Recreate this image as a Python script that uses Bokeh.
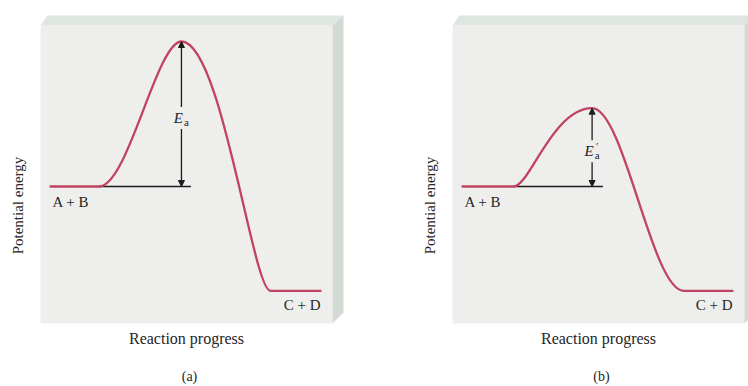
import math

from bokeh.core.properties import value
from bokeh.embed import file_html
from bokeh.layouts import row
from bokeh.models import Arrow, NormalHead, Range1d
from bokeh.plotting import figure
from bokeh.resources import INLINE

# ---------------------------------------------------------------- data
panel_tags = ["(a)", "(b)"]
energy_reactants = [60, 60]        # A + B
energy_products = [24, 24]         # C + D
energy_transition = [110, 87]      # top of the barrier
progress_start = [0.0, 0.0]        # reactant plateau begins
progress_rise = [1.8, 1.9]         # curve leaves the reactant plateau
progress_peak = [4.85, 4.8]        # transition state
progress_fall = [8.15, 8.2]        # curve reaches the product plateau
progress_end = [10.0, 10.0]        # product plateau ends
progress_ref_end = [5.2, 5.2]      # end of the reactant reference line
reactant_label = "A + B"
product_label = "C + D"
barrier_primes = ["", "\u2032"]    # E_a  and  E'_a
x_title = "Reaction progress"
y_title = "Potential energy"

# ---------------------------------------------------------------- layout / style
HEIGHT = 386
WIDTHS = [412, 336]
X0, PX_X = 50, 27.0      # pixel column of progress 0, pixels per progress unit
Y0, PX_Y = 360, 2.9      # pixel row of energy 0, pixels per energy unit

# cubic Bezier handle fractions (start handle, end handle) for each panel
RISE_SHAPE = [(0.35, 0.30), (0.20, 0.50)]
FALL_SHAPE = [(0.45, 0.20), (0.35, 0.35)]

FONT = value("Liberation Serif")
FACE = "#eeefed"
TOP = "#dfe5e0"
SIDE = "#d3dad4"
CURVE = "#c2435f"
INK = "#1c1c1c"
TEXT = "#262626"


def dx(px):
    return (px - X0) / PX_X


def dy(py):
    return (Y0 - py) / PX_Y


def panel(i):
    w = WIDTHS[i]
    p = figure(
        width=w, height=HEIGHT,
        x_range=Range1d(dx(0), dx(w)), y_range=Range1d(dy(HEIGHT), dy(0)),
        x_axis_location=None, y_axis_location=None,
        output_backend="svg", toolbar_location=None, min_border=0,
        background_fill_color="white", border_fill_color="white",
    )
    p.grid.visible = False
    p.outline_line_color = None

    # box drawn as a slab: front face, top face, right face
    p.quad(left=dx(40), right=dx(332), top=dy(25), bottom=dy(323),
           fill_color=FACE, line_color=None)
    p.patch([dx(40), dx(47), dx(343), dx(332)], [dy(25), dy(15), dy(15), dy(25)],
            fill_color=TOP, line_color=None)
    p.patch([dx(332), dx(343), dx(343), dx(332)], [dy(25), dy(15), dy(312), dy(323)],
            fill_color=SIDE, line_color=None)

    er, ep, et = energy_reactants[i], energy_products[i], energy_transition[i]
    xs, xr, xp, xf, xe = (progress_start[i], progress_rise[i], progress_peak[i],
                          progress_fall[i], progress_end[i])

    # reactant reference line
    p.segment(x0=[xr], y0=[er], x1=[progress_ref_end[i]], y1=[er],
              line_color=INK, line_width=1.5)

    # energy profile
    lw = 2.3
    p.line([xs, xr], [er, er], line_color=CURVE, line_width=lw, line_cap="round")
    a, b = RISE_SHAPE[i]
    span = xp - xr
    p.bezier(x0=[xr], y0=[er], x1=[xp], y1=[et],
             cx0=[xr + a * span], cy0=[er], cx1=[xp - b * span], cy1=[et],
             line_color=CURVE, line_width=lw)
    a, b = FALL_SHAPE[i]
    span = xf - xp
    p.bezier(x0=[xp], y0=[et], x1=[xf], y1=[ep],
             cx0=[xp + a * span], cy0=[et], cx1=[xf - b * span], cy1=[ep],
             line_color=CURVE, line_width=lw)
    p.line([xf, xe], [ep, ep], line_color=CURVE, line_width=lw, line_cap="round")

    # activation-energy arrow, broken around its label
    mid = (er + et) / 2 - 4 / PX_Y
    gap = 11 / PX_Y
    for y_from, y_to in ((mid + gap, et), (mid - gap, er)):
        p.add_layout(Arrow(
            end=NormalHead(size=6, fill_color=INK, line_color=INK, line_width=1),
            x_start=xp, y_start=y_from, x_end=xp, y_end=y_to,
            line_color=INK, line_width=1.3))
    p.text(x=[xp], y=[mid], text=["E"], text_font=FONT, text_font_style="italic",
           text_font_size="15px", text_color=TEXT, text_align="center",
           text_baseline="middle", x_offset=-3)
    p.text(x=[xp], y=[mid], text=["a"], text_font=FONT,
           text_font_size="11px", text_color=TEXT, text_align="center",
           text_baseline="middle", x_offset=5, y_offset=4)
    if barrier_primes[i]:
        p.text(x=[xp], y=[mid], text=[barrier_primes[i]], text_font=FONT,
               text_font_size="11px", text_color=TEXT, text_align="center",
               text_baseline="middle", x_offset=5, y_offset=-5)

    # plateau labels
    p.text(x=[xs], y=[er], text=[reactant_label], text_font=FONT,
           text_font_size="15px", text_color=TEXT, text_align="left",
           text_baseline="top", x_offset=2, y_offset=7)
    p.text(x=[xe], y=[ep], text=[product_label], text_font=FONT,
           text_font_size="15px", text_color=TEXT, text_align="right",
           text_baseline="top", x_offset=0, y_offset=6)

    # axis titles and panel tag
    p.text(x=[dx(17)], y=[dy(205)], text=[y_title], text_font=FONT,
           text_font_size="15px", text_color=TEXT, text_align="center",
           text_baseline="middle", angle=math.pi / 2)
    p.text(x=[dx(186)], y=[dy(338)], text=[x_title], text_font=FONT,
           text_font_size="16px", text_color=TEXT, text_align="center",
           text_baseline="middle")
    p.text(x=[dx(189)], y=[dy(376)], text=[panel_tags[i]], text_font=FONT,
           text_font_size="14px", text_color=TEXT, text_align="center",
           text_baseline="middle")
    return p


layout = row(panel(0), panel(1))
open("out.html", "w").write(file_html(layout, INLINE))
